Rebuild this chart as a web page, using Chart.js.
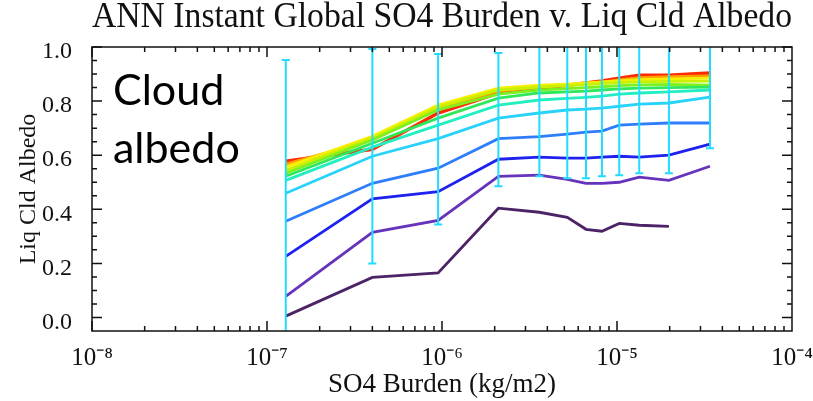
<!DOCTYPE html>
<html>
<head>
<meta charset="utf-8">
<script src="https://cdn.jsdelivr.net/npm/chart.js@4.4.1/dist/chart.umd.min.js"></script>
<style>
  html, body { margin: 0; padding: 0; background: #fff; }
  #wrap { position: relative; width: 813px; height: 401px; }
  #note { position: absolute; left: 113px; top: 60px; font-family: Lato, sans-serif; font-size: 43px; line-height: 58px; color: #000; pointer-events: none; }
</style>
</head>
<body>
<div id="wrap">
  <canvas id="albedoChart" width="813" height="401"></canvas>
  <div id="note">Cloud<br>albedo</div>
</div>
<script>
// SO4 burden bins (kg/m2)
const burden = [1.28e-7, 4.0e-7, 9.5e-7, 2.1e-6, 3.6e-6, 5.2e-6, 6.65e-6, 8.2e-6, 1.03e-5, 1.34e-5, 1.98e-5, 3.4e-5];

// liquid cloud albedo, one curve per bin, bottom to top
const s1  = [0.005, 0.148, 0.165, 0.404, 0.389, 0.370, 0.326, 0.319, 0.348, 0.341, 0.337, null];
const s2  = [0.078, 0.315, 0.359, 0.522, 0.526, 0.511, 0.496, 0.496, 0.500, 0.519, 0.507, 0.559];
const s3  = [0.226, 0.439, 0.465, 0.585, 0.593, 0.589, 0.589, 0.593, 0.596, 0.593, 0.600, 0.641];
const s4  = [0.356, 0.496, 0.552, 0.661, 0.669, 0.678, 0.685, 0.689, 0.711, 0.715, 0.719, 0.719];
const s5  = [0.459, 0.596, 0.661, 0.737, 0.756, 0.767, 0.770, 0.774, 0.781, 0.789, 0.793, 0.815];
const s6  = [0.507, 0.630, 0.711, 0.785, 0.804, 0.810, 0.814, 0.818, 0.826, 0.830, 0.834, 0.841];
const s7  = [0.522, 0.644, 0.737, 0.811, 0.830, 0.834, 0.837, 0.841, 0.845, 0.848, 0.850, 0.852];
const s8  = [0.533, 0.656, 0.767, 0.826, 0.841, 0.846, 0.850, 0.853, 0.857, 0.860, 0.862, 0.859];
const s9  = [0.544, 0.663, 0.778, 0.841, 0.852, 0.857, 0.861, 0.865, 0.868, 0.871, 0.873, 0.874];
const s10 = [0.556, 0.670, 0.785, 0.848, 0.859, 0.863, 0.867, 0.871, 0.875, 0.879, 0.882, 0.885];
const s11 = [0.567, 0.656, 0.774, 0.837, 0.852, 0.859, 0.865, 0.870, 0.878, 0.887, 0.890, 0.893];
const s12 = [0.578, 0.622, 0.756, 0.830, 0.848, 0.859, 0.867, 0.874, 0.885, 0.896, 0.896, 0.904];

// spread bars
const errLow  = [-0.06, 0.200, 0.344, 0.485, 0.522, 0.515, 0.515, 0.522, 0.526, 0.533, 0.533, 0.626];
const errHigh = [0.952, 0.993, 0.974, 0.978, 1.08, 1.08, 1.08, 1.08, 1.08, 1.08, 1.08, 1.08];

const xTicks = [1e-8, 1e-7, 1e-6, 1e-5, 1e-4];
const yTicks = [0.0, 0.2, 0.4, 0.6, 0.8, 1.0];

const series = [s1, s2, s3, s4, s5, s6, s7, s8, s9, s10, s11, s12];
const colors = ['#4b2366', '#6633bb', '#1f22ee', '#2e7dfa', '#28d2fa', '#22eec0',
                '#2ee85a', '#7df020', '#c8f000', '#f5f000', '#ffa000', '#ff2a00'];

const sup = { '-': '\u207B', '0': '\u2070', '1': '\u00B9', '2': '\u00B2', '3': '\u00B3', '4': '\u2074',
              '5': '\u2075', '6': '\u2076', '7': '\u2077', '8': '\u2078', '9': '\u2079' };
const powLabel = v => '10' + String(Math.round(Math.log10(v))).split('').map(c => sup[c]).join('');

const errorBars = {
  id: 'errorBars',
  afterDatasetsDraw(chart) {
    const { ctx, chartArea, scales: { x, y } } = chart;
    ctx.save();
    ctx.beginPath();
    ctx.rect(chartArea.left, chartArea.top, chartArea.right - chartArea.left, chartArea.bottom - chartArea.top);
    ctx.clip();
    ctx.strokeStyle = '#22dcff';
    ctx.lineWidth = 2;
    burden.forEach((b, i) => {
      const px = x.getPixelForValue(b);
      const top = y.getPixelForValue(errHigh[i]);
      const bot = y.getPixelForValue(errLow[i]);
      ctx.beginPath();
      ctx.moveTo(px, top); ctx.lineTo(px, bot);
      ctx.moveTo(px - 4, top); ctx.lineTo(px + 4, top);
      ctx.moveTo(px - 4, bot); ctx.lineTo(px + 4, bot);
      ctx.stroke();
    });
    ctx.restore();
  }
};

// IDL style frame with inward ticks on all four sides
const frame = {
  id: 'frame',
  afterDraw(chart) {
    const { ctx, chartArea: a, scales: { x, y } } = chart;
    ctx.save();
    ctx.strokeStyle = '#111';
    ctx.lineWidth = 1.5;
    ctx.strokeRect(a.left, a.top, a.right - a.left, a.bottom - a.top);
    ctx.beginPath();
    for (let e = -8; e < -4; e++) {
      for (let m = 1; m < 10; m++) {
        const px = x.getPixelForValue(m * Math.pow(10, e));
        const len = m === 1 ? 10 : 5;
        ctx.moveTo(px, a.bottom); ctx.lineTo(px, a.bottom - len);
        ctx.moveTo(px, a.top); ctx.lineTo(px, a.top + len);
      }
    }
    for (let k = 0; k <= 20; k++) {
      const py = y.getPixelForValue(k * 0.05);
      const len = k % 4 === 0 ? 10 : 5;
      ctx.moveTo(a.left, py); ctx.lineTo(a.left + len, py);
      ctx.moveTo(a.right, py); ctx.lineTo(a.right - len, py);
    }
    ctx.stroke();
    ctx.restore();
  }
};

const chart = new Chart(document.getElementById('albedoChart'), {
  type: 'line',
  data: {
    datasets: series.map((s, i) => ({
      data: burden.map((b, j) => ({ x: b, y: s[j] })),
      borderColor: colors[i],
      borderWidth: i === 11 ? 3.5 : 2.8,
      pointRadius: 0,
      fill: false,
      tension: 0
    }))
  },
  options: {
    responsive: false,
    animation: false,
    layout: { padding: { left: 10, right: 21, top: 0, bottom: 0 } },
    plugins: {
      legend: { display: false },
      tooltip: { enabled: false },
      title: {
        display: true,
        fullSize: false,
        text: 'ANN Instant Global SO4 Burden v. Liq Cld Albedo',
        color: '#111',
        font: { family: 'Liberation Serif', size: 36, weight: 'normal', lineHeight: 1.0 },
        padding: { top: 0, bottom: 11 }
      }
    },
    scales: {
      x: {
        type: 'logarithmic',
        min: 1e-8,
        max: 1e-4,
        grid: { display: false },
        border: { display: false },
        afterBuildTicks: s => { s.ticks = xTicks.map(v => ({ value: v, major: true })); },
        afterFit: s => { s.height = 70; s.paddingLeft = 0; s.paddingRight = 0; },
        ticks: {
          autoSkip: false,
          maxRotation: 0,
          padding: 4,
          color: '#111',
          font: { family: 'Liberation Serif', size: 25 },
          callback: v => powLabel(v)
        },
        title: {
          display: true,
          text: 'SO4 Burden (kg/m2)',
          color: '#111',
          font: { family: 'Liberation Serif', size: 27 },
          padding: { top: 0, bottom: 0 }
        }
      },
      y: {
        min: -0.05,
        max: 1.0,
        grid: { display: false },
        border: { display: false },
        afterBuildTicks: s => { s.ticks = yTicks.map(v => ({ value: v })); },
        afterFit: s => { s.width = 82; s.paddingTop = 0; s.paddingBottom = 0; },
        ticks: {
          padding: 12,
          labelOffset: 5,
          color: '#111',
          font: { family: 'Liberation Serif', size: 24 },
          callback: v => v.toFixed(1)
        },
        title: {
          display: true,
          text: 'Liq Cld Albedo',
          color: '#111',
          font: { family: 'Liberation Serif', size: 24 },
          padding: { top: 4, bottom: 0 }
        }
      }
    }
  },
  plugins: [errorBars, frame]
});
</script>
</body>
</html>
